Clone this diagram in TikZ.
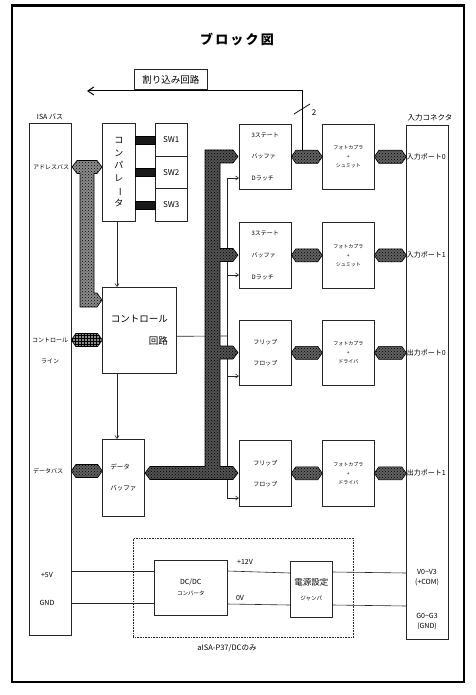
\documentclass[tikz,border=0pt]{standalone}
\usepackage{fontspec}
\setmainfont{Noto Sans CJK JP}
\usepackage{graphicx}
\usetikzlibrary{arrows.meta,patterns,shapes.symbols,calc}
\newcommand\myfs[2]{\fontsize{#1}{#2}\selectfont}
\tikzset{
  box/.style={draw=black!85, line width=0.6pt, inner sep=0pt, anchor=north west, align=center},
  thinl/.style={draw=black!85, line width=0.6pt},
  arr/.style={thinl, -{Straight Barb[length=3pt,width=4pt]}},
  hexc/.style={signal, signal to=east and west, signal pointer angle=110, draw=black, line width=0.6pt,
     inner sep=0pt, minimum height=13pt, preaction={fill=black!62}, pattern=crosshatch dots, pattern color=black},
  hexgrid/.style={signal, signal to=east and west, signal pointer angle=110, draw=black, line width=0.6pt,
     inner sep=0pt, minimum height=13pt, preaction={fill=black!45}, pattern=grid, pattern color=black},
  swbar/.style={draw=black, fill=black!90, inner sep=0pt, minimum width=20pt, minimum height=8pt},
  busdark/.style={draw=black, line width=0.6pt, preaction={fill=black!68}, pattern=crosshatch dots, pattern color=black},
  buslight/.style={draw=black, line width=0.6pt, preaction={fill=black!45}, pattern=crosshatch dots, pattern color=black},
  lbl/.style={inner sep=0pt},
}
\begin{document}
\begin{tikzpicture}[x=1pt,y=-1pt]
\useasboundingbox (0,0) rectangle (475,695);
\fill[white] (0,0) rectangle (475,695);
\draw[line width=2.5pt] (12,5.5) rectangle (464,682);

% title
\node[lbl, font=\myfs{13}{15}\bfseries] (title) at (237,39) {ブ\,ロ\,ッ\,ク\,図};

% boxes
\node[box, minimum width=73pt, minimum height=20.5pt, font=\myfs{9.5}{11}] (intr) at (134,69) {割り込み回路};
\node[box, minimum width=42pt, minimum height=512pt] (isa) at (29,123) {};
\node[box, minimum width=42pt, minimum height=514pt] (conn) at (406,125) {};
\node[box, minimum width=33pt, minimum height=98pt, font=\myfs{9}{12.5}] (comp) at (102,123)
  {コ\\ン\\パ\\レ\\\rotatebox[origin=c]{-90}{ー}\\タ};
\node[box, minimum width=32pt, minimum height=33pt, font=\myfs{8}{10}] (sw1) at (155,123) {SW1};
\node[box, minimum width=32pt, minimum height=32pt, font=\myfs{8}{10}] (sw2) at (155,156) {SW2};
\node[box, minimum width=32pt, minimum height=33pt, font=\myfs{8}{10}] (sw3) at (155,188) {SW3};
\node[box, minimum width=74pt, minimum height=86pt, align=right, font=\myfs{9.5}{22}] (ctrl) at (102,287) {コントロール\\回路};
\node[box, minimum width=42pt, minimum height=77pt, align=left, font=\myfs{6.5}{21}] (dbuf) at (102,439) {データ\\バッファ};

\node[box, minimum width=52pt, minimum height=65pt, align=left, font=\myfs{6}{21.5}] (buf1) at (239,124) {3ステート\\バッファ\\Dラッチ};
\node[box, minimum width=52pt, minimum height=66pt, align=left, font=\myfs{6}{22}] (buf2) at (239,222) {3ステート\\バッファ\\Dラッチ};
\node[box, minimum width=52pt, minimum height=65pt, font=\myfs{6}{21}] (ff1) at (239,320) {フリップ\\フロップ};
\node[box, minimum width=52pt, minimum height=66pt, font=\myfs{6}{21}] (ff2) at (239,440) {フリップ\\フロップ};

\node[box, minimum width=52pt, minimum height=65pt, font=\myfs{5}{9}] (pc1) at (322,124) {フォトカプラ\\+\\シュミット};
\node[box, minimum width=52pt, minimum height=66pt, font=\myfs{5}{9}] (pc2) at (322,222) {フォトカプラ\\+\\シュミット};
\node[box, minimum width=52pt, minimum height=65pt, font=\myfs{5}{9}] (pc3) at (322,320) {フォトカプラ\\+\\ドライバ};
\node[box, minimum width=52pt, minimum height=66pt, font=\myfs{5}{9}] (pc4) at (322,440) {フォトカプラ\\+\\ドライバ};

\node[box, densely dotted, minimum width=220pt, minimum height=99pt] (opt) at (133,538) {};
\node[box, minimum width=73pt, minimum height=55pt, font=\myfs{7}{11}] (dcdc) at (154,560) {DC/DC\\{\myfs{5.5}{11}コンバータ}};
\node[box, minimum width=42pt, minimum height=56pt, font=\myfs{8.5}{15}] (jmp) at (290,561) {電源設定\\{\myfs{5.5}{15}ジャンパ}};

% thin lines and arrows
\draw[arr] (comp.south -| 117,0) -- (ctrl.north -| 117,0);
\draw[arr] (ctrl.south -| 117,0) -- (dbuf.north -| 117,0);
\coordinate (cv) at (227,336);
\draw[thinl] ([yshift=-6pt]ctrl.east) -- (cv);
\draw[thinl] (227,178) -- (227,498);
\draw[arr] (227,178) -- (buf1.west |- 0,178);
\draw[arr] (227,275) -- (buf2.west |- 0,275);
\draw[arr] (227,376) -- (ff1.west |- 0,376);
\draw[arr] (227,498) -- (ff2.west |- 0,498);

% power lines
\draw[thinl] (isa.east |- 0,571) -- (dcdc.west |- 0,571);
\draw[thinl] (isa.east |- 0,603) -- (dcdc.west |- 0,603);
\draw[thinl] (dcdc.east |- 0,571) -- (jmp.west |- 0,573);
\draw[thinl] (dcdc.east |- 0,604) -- (jmp.west |- 0,605);
\draw[thinl] (jmp.east |- 0,572) -- (conn.west |- 0,573);
\draw[thinl] (jmp.east |- 0,605) -- (conn.west |- 0,606);

% SW bars
\node[swbar] (b1) at ($(comp.east |- sw1.center)!0.5!(sw1.west)$) {};
\node[swbar] (b2) at ($(comp.east |- sw2.center)!0.5!(sw2.west)$) {};
\node[swbar] (b3) at ($(comp.east |- sw3.center)!0.5!(sw3.west)$) {};

% address bus
\path[buslight] (72,167) -- (77,160.5) -- (97,160.5) -- (102,167) -- (97,173.5) -- (94,173.5)
  -- (94,293) -- (97,293) -- (102,300) -- (97,307) -- (80,307) -- (80,173.5) -- (77,173.5) -- cycle;

% main internal bus
\path[busdark] (205,150) -- (233,150) -- (238,156.5) -- (233,163) -- (220,163) -- (220,248.5)
  -- (233,248.5) -- (238,255) -- (233,261.5) -- (220,261.5) -- (220,346) -- (233,346) -- (238,352.5)
  -- (233,359) -- (220,359) -- (220,466.5) -- (233,466.5) -- (238,473) -- (233,479.5) -- (150,479.5)
  -- (145,473) -- (150,466.5) -- (205,466.5) -- cycle;

% hex connectors
\node[hexgrid, minimum width=31pt] (hc) at ($(isa.east |- 0,340)!0.5!(ctrl.west |- 0,340)$) {};
\node[hexc, minimum width=31pt] (hd) at ($(isa.east |- 0,471)!0.5!(dbuf.west |- 0,471)$) {};
\node[hexc, minimum width=31pt] (h1a) at ($(buf1.east)!0.5!(pc1.west)$) {};
\node[hexc, minimum width=31pt] (h2a) at ($(buf2.east)!0.5!(pc2.west)$) {};
\node[hexc, minimum width=31pt] (h3a) at ($(ff1.east)!0.5!(pc3.west)$) {};
\node[hexc, minimum width=31pt] (h4a) at ($(ff2.east)!0.5!(pc4.west)$) {};
\node[hexc, minimum width=32pt] (h1b) at ($(pc1.east)!0.5!(conn.west |- pc1.east)$) {};
\node[hexc, minimum width=32pt] (h2b) at ($(pc2.east)!0.5!(conn.west |- pc2.east)$) {};
\node[hexc, minimum width=32pt] (h3b) at ($(pc3.east)!0.5!(conn.west |- pc3.east)$) {};
\node[hexc, minimum width=32pt] (h4b) at ($(pc4.east)!0.5!(conn.west |- pc4.east)$) {};

% interrupt line
\coordinate (irqe) at (87,91);
\draw[line width=1pt, -{Straight Barb[length=6pt,width=8pt]}] ([xshift=-4.5pt]h1a.north) |- (irqe);
\draw[line width=0.7pt] (294,114) -- (310,104);
\node[lbl, font=\myfs{8}{10}] (two) at (314,113) {2};

% labels
\node[lbl, font=\myfs{7}{9}] (isalbl) at (50,117) {ISA バス};
\node[lbl, font=\myfs{7.5}{9}] (connlbl) at (430,118) {入力コネクタ};
\node[lbl, font=\myfs{6}{8}] (adrl) at (51,167) {アドレスバス};
\node[lbl, font=\myfs{6}{21}, align=center] (ctll) at (50,351) {コントロール\\ライン};
\node[lbl, font=\myfs{6}{8}] (datl) at (48,471) {データバス};
\node[lbl, font=\myfs{7}{9}] (p5l) at (47,575) {+5V};
\node[lbl, font=\myfs{7}{9}] (gndl) at (47,603) {GND};
\node[lbl, font=\myfs{7}{9}, anchor=west] (ip0) at (h1b.east) {入力ポート0};
\node[lbl, font=\myfs{7}{9}, anchor=west] (ip1) at (h2b.east) {入力ポート1};
\node[lbl, font=\myfs{7}{9}, anchor=west] (op0) at (h3b.east) {出力ポート0};
\node[lbl, font=\myfs{7}{9}, anchor=west] (op1) at (h4b.east) {出力ポート1};
\node[lbl, font=\myfs{7}{9}] (v12) at (245,562) {+12V};
\node[lbl, font=\myfs{7}{9}] (v0) at (240,598) {0V};
\node[lbl, font=\myfs{7}{10}, align=center] (vcom) at (427,578) {V0\textasciitilde V3\\(+COM)};
\node[lbl, font=\myfs{7}{10}, align=center] (gcom) at (427,622) {G0\textasciitilde G3\\(GND)};
\node[lbl, font=\myfs{7.5}{9}] (optl) at (227,648) {aISA-P37/DCのみ};
\end{tikzpicture}
\end{document}
